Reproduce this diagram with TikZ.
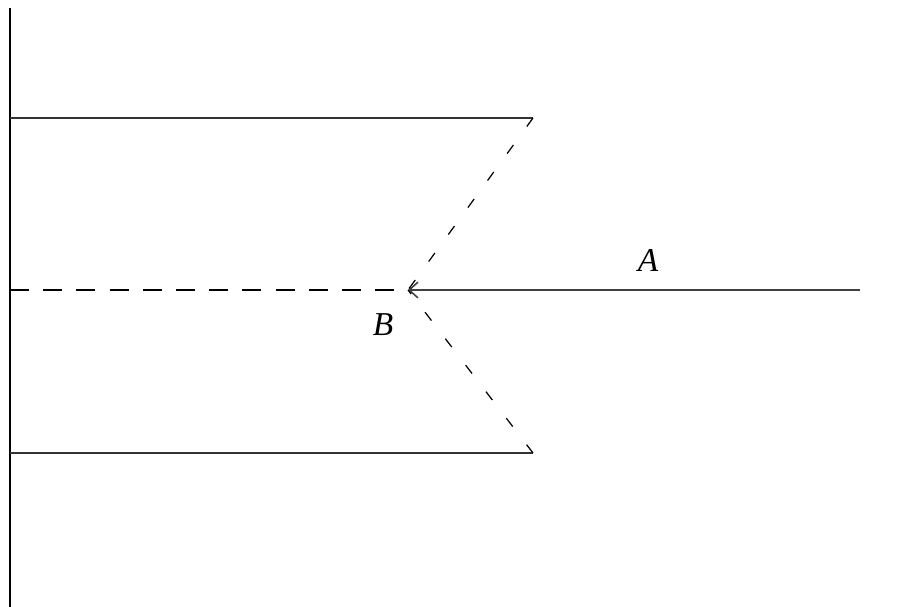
\documentclass[tikz,border=0pt]{standalone}
\usepackage{fontspec}
\setmainfont{Liberation Serif}
\usetikzlibrary{arrows.meta}
\begin{document}
\begin{tikzpicture}[x=0.02cm,y=-0.02cm,
  wall/.style={line width=0.9pt,black},
  edge/.style={line width=0.6pt,black!80},
  axisdash/.style={line width=0.9pt,black,dash pattern=on 12\pgflinewidth off 9\pgflinewidth},
  raydash/.style={line width=0.7pt,black,dash pattern=on 6pt off 13pt},
  lbl/.style={font=\fontsize{19}{22}\selectfont\itshape,inner sep=0pt}]
\useasboundingbox (0,0) rectangle (902,607);
\coordinate (wt) at (10,8);
\coordinate (wb) at (10,607);
\coordinate (tl) at (10,118);
\coordinate (tr) at (533,118);
\coordinate (bl) at (10,453);
\coordinate (br) at (533,453);
\coordinate (ml) at (10,290);
\coordinate (B) at (408,290);
\coordinate (Ar) at (860,290);
\draw[wall] (wt) -- (wb);
\draw[edge] (tl) -- (tr);
\draw[edge] (bl) -- (br);
\draw[axisdash] (ml) -- (B);
\draw[line width=0.9pt,black!75,-{Straight Barb[length=5pt,width=9pt]}] (Ar) -- (B);
\draw[raydash] (tr) -- (B);
\draw[raydash] (br) -- (B);
\node[lbl] (la) at (648,260) {A};
\node[lbl] (lb) at (383,325) {B};
\end{tikzpicture}
\end{document}
